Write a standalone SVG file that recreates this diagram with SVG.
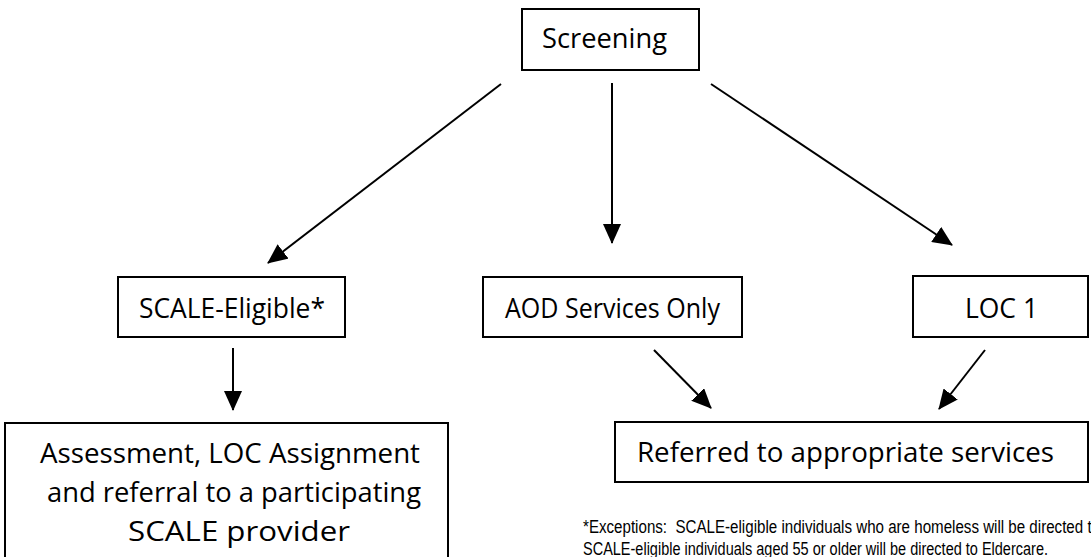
<svg xmlns="http://www.w3.org/2000/svg" width="1091" height="557" viewBox="0 0 1091 557">
<style>
.box{fill:#fff;stroke:#000;stroke-width:2}
.t{font-family:"Open Sans","Liberation Sans",Arial,sans-serif;font-size:27px;fill:#000}
.fn{font-family:"Liberation Sans",Arial,sans-serif;font-size:17.5px;fill:#000;white-space:pre}
.c{stroke:#000;stroke-width:2;fill:none;marker-end:url(#ah)}
</style>
<defs>
<marker id="ah" markerUnits="userSpaceOnUse" markerWidth="20" markerHeight="18" refX="19" refY="9" orient="auto" viewBox="0 0 20 18">
<path d="M0,0 L20,9 L0,18 z" fill="#000"/>
</marker>
</defs>
<rect width="1091" height="557" fill="#fff"/>
<g id="connectors">
<line class="c" x1="501" y1="84" x2="268" y2="263"/>
<line class="c" x1="612" y1="83" x2="612" y2="243"/>
<line class="c" x1="711" y1="84" x2="952" y2="245"/>
<line class="c" x1="233" y1="348" x2="233" y2="410"/>
<line class="c" x1="654" y1="350" x2="711" y2="408"/>
<line class="c" x1="985" y1="350" x2="939" y2="409"/>
</g>
<g id="screening">
<rect class="box" x="522" y="9" width="177" height="61"/>
<text class="t" x="542" y="48" textLength="125" lengthAdjust="spacingAndGlyphs">Screening</text>
</g>
<g id="scale-eligible">
<rect class="box" x="118" y="277" width="227" height="60"/>
<text class="t" x="139" y="318" textLength="186" lengthAdjust="spacingAndGlyphs">SCALE-Eligible*</text>
</g>
<g id="aod">
<rect class="box" x="483" y="277" width="259" height="60"/>
<text class="t" x="505" y="318" textLength="215" lengthAdjust="spacingAndGlyphs">AOD Services Only</text>
</g>
<g id="loc1">
<rect class="box" x="913" y="276" width="175" height="61"/>
<text class="t" x="965" y="318" textLength="73" lengthAdjust="spacingAndGlyphs">LOC 1</text>
</g>
<g id="assessment">
<rect class="box" x="5" y="423" width="443" height="150"/>
<text class="t" x="40" y="463" textLength="380" lengthAdjust="spacingAndGlyphs">Assessment, LOC Assignment</text>
<text class="t" x="47" y="502" textLength="374" lengthAdjust="spacingAndGlyphs">and referral to a participating</text>
<text class="t" x="128" y="541" textLength="222" lengthAdjust="spacingAndGlyphs">SCALE provider</text>
</g>
<g id="referred">
<rect class="box" x="615" y="422" width="473" height="60"/>
<text class="t" x="637" y="462" textLength="417" lengthAdjust="spacingAndGlyphs">Referred to appropriate services</text>
</g>
<g id="footnote">
<text class="fn" x="583" y="533" textLength="517" lengthAdjust="spacingAndGlyphs">*Exceptions:  SCALE-eligible individuals who are homeless will be directed to</text>
<text class="fn" x="583" y="555" textLength="465" lengthAdjust="spacingAndGlyphs">SCALE-eligible individuals aged 55 or older will be directed to Eldercare.</text>
</g>
</svg>
